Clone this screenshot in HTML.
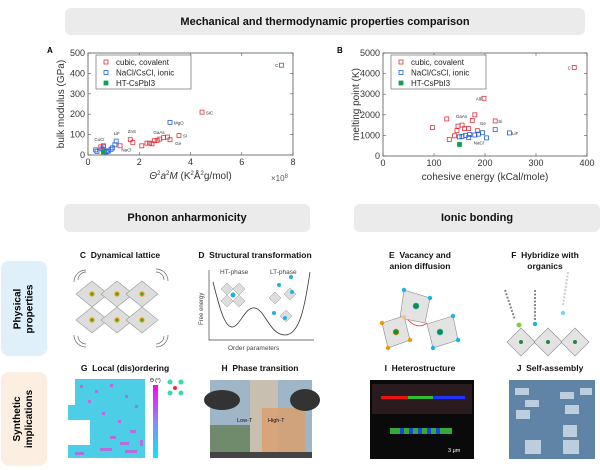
<!DOCTYPE html>
<html><head><meta charset="utf-8">
<style>
body{margin:0;background:#fff;font-family:"Liberation Sans",sans-serif;}
#root{position:relative;width:600px;height:470px;overflow:hidden;}
.banner{position:absolute;background:#ebebeb;border-radius:6px;font-weight:bold;font-size:11px;display:flex;align-items:center;justify-content:center;color:#111;}
.side{position:absolute;border-radius:8px;font-weight:bold;font-size:10px;display:flex;align-items:center;justify-content:center;text-align:center;}
.side span{transform:rotate(-90deg);white-space:nowrap;line-height:12px;}
.pt{position:absolute;font-weight:bold;font-size:8.5px;text-align:center;line-height:11px;color:#111;}
svg text{font-family:"Liberation Sans",sans-serif;}
</style></head>
<body><div id="root">
<div class="banner" style="left:65px;top:8px;width:520px;height:27px;">Mechanical and thermodynamic properties comparison</div>
<svg id="charts" width="600" height="200" style="position:absolute;left:0;top:0"></svg>

<div class="banner" style="left:64px;top:204px;width:246px;height:28px;">Phonon anharmonicity</div>
<div class="banner" style="left:354px;top:204px;width:246px;height:28px;">Ionic bonding</div>
<div class="side" style="left:1px;top:261px;width:46px;height:95px;background:#dff0fa;"><span>Physical<br>properties</span></div>
<div class="side" style="left:1px;top:372px;width:46px;height:94px;background:#fcefe1;"><span>Synthetic<br>implications</span></div>

<div class="pt" style="left:70px;top:250px;width:100px;">C&nbsp; Dynamical lattice</div>
<div class="pt" style="left:190px;top:250px;width:130px;">D&nbsp; Structural transformation</div>
<div class="pt" style="left:370px;top:250px;width:100px;">E&nbsp; Vacancy and<br>anion diffusion</div>
<div class="pt" style="left:495px;top:250px;width:100px;">F&nbsp; Hybridize with<br>organics</div>
<div class="pt" style="left:70px;top:363px;width:110px;">G&nbsp; Local (dis)ordering</div>
<div class="pt" style="left:210px;top:363px;width:100px;">H&nbsp; Phase transition</div>
<div class="pt" style="left:370px;top:363px;width:100px;">I&nbsp; Heterostructure</div>
<div class="pt" style="left:505px;top:363px;width:90px;">J&nbsp; Self-assembly</div>

<svg width="600" height="470" style="position:absolute;left:0;top:0">
 <g fill="#ddd" stroke="#999" stroke-width="0.6">
  <polygon points="92,281 108,294 92,307 76,294"/><polygon points="117,281 133,294 117,307 101,294"/><polygon points="142,281 158,294 142,307 126,294"/>
  <polygon points="92,307 108,320 92,333 76,320"/><polygon points="117,307 133,320 117,333 101,320"/><polygon points="142,307 158,320 142,333 126,320"/>
  <g fill="#3a3" stroke="#e90" stroke-width="1.2"><circle cx="92" cy="294" r="2"/><circle cx="117" cy="294" r="2"/><circle cx="142" cy="294" r="2"/><circle cx="92" cy="320" r="2"/><circle cx="117" cy="320" r="2"/><circle cx="142" cy="320" r="2"/></g>
  <g fill="none" stroke="#666" stroke-width="0.7"><path d="M78,280 a8,8 0 0 1 8,-8"/><path d="M74,282 a12,12 0 0 1 12,-12"/><path d="M156,272 a8,8 0 0 1 8,8"/><path d="M156,269 a12,12 0 0 1 12,12"/><path d="M78,336 a8,8 0 0 0 8,8"/><path d="M74,335 a12,12 0 0 0 12,12"/><path d="M164,336 a8,8 0 0 1 -8,8"/><path d="M168,335 a12,12 0 0 1 -12,12"/></g>
 </g>
 <g>
  <path d="M209,270 L209,340 L314,340" fill="none" stroke="#444" stroke-width="0.7"/>
  <path d="M213,282 C220,310 225,327 232,327 C240,327 245,306 255,308 C265,310 270,335 285,335 C300,335 305,305 310,272" fill="none" stroke="#333" stroke-width="0.8"/>
  <text x="220" y="274" font-size="6.5" fill="#444">HT-phase</text><text x="270" y="274" font-size="6.5" fill="#444">LT-phase</text>
  <text x="228" y="350" font-size="6.5" fill="#444">Order parameters</text>
  <text x="203" y="325" font-size="6" fill="#444" transform="rotate(-90 203 325)">Free energy</text>
  <g fill="#ddd" stroke="#999" stroke-width="0.5"><polygon points="227,283 233,289 227,295 221,289"/><polygon points="239,283 245,289 239,295 233,289"/><polygon points="227,295 233,301 227,307 221,301"/><polygon points="239,295 245,301 239,307 233,301"/><polygon points="275,292 281,298 275,304 269,298"/><polygon points="290,288 296,294 290,300 284,294"/><polygon points="286,310 292,316 286,322 280,316"/></g>
  <circle cx="233" cy="295" r="2.5" fill="#1ab3e6"/><circle cx="279" cy="285" r="2" fill="#1ab3e6"/><circle cx="292" cy="292" r="2" fill="#1ab3e6"/><circle cx="285" cy="318" r="2" fill="#1ab3e6"/><circle cx="274" cy="313" r="2" fill="#1ab3e6"/><circle cx="291" cy="277" r="2" fill="#1ab3e6"/>
 </g>
 <g fill="#e3e3e3" stroke="#888" stroke-width="0.6">
  <polygon points="404,290 430,298 425,323 400,318"/><polygon points="382,323 404,316 410,340 388,348"/><polygon points="427,324 453,316 458,340 433,348"/>
  <circle cx="416" cy="306" r="3" fill="#1b8a3a" stroke="#1ab3e6"/><circle cx="396" cy="332" r="3" fill="#1b8a3a" stroke="#e90"/><circle cx="440" cy="332" r="3" fill="#1b8a3a" stroke="#1ab3e6"/>
  <g stroke="none"><circle cx="382" cy="323" r="2.2" fill="#e90"/><circle cx="388" cy="348" r="2.2" fill="#e90"/><circle cx="410" cy="340" r="2.2" fill="#e90"/><circle cx="404" cy="290" r="2.2" fill="#1ab3e6"/><circle cx="430" cy="298" r="2.2" fill="#1ab3e6"/><circle cx="453" cy="316" r="2.2" fill="#1ab3e6"/><circle cx="458" cy="340" r="2.2" fill="#1ab3e6"/><circle cx="433" cy="348" r="2.2" fill="#1ab3e6"/><circle cx="404" cy="317" r="2" fill="#f5c28a"/></g>
  <path d="M408,320 Q418,330 427,323" fill="none" stroke="#e33" stroke-width="0.8"/>
 </g>
 <g fill="#e3e3e3" stroke="#888" stroke-width="0.6">
  <polygon points="521,328 535,342 521,356 507,342"/><polygon points="548,328 562,342 548,356 534,342"/><polygon points="575,328 589,342 575,356 561,342"/>
  <g stroke="none"><circle cx="521" cy="342" r="2" fill="#1b8a3a"/><circle cx="548" cy="342" r="2" fill="#1b8a3a"/><circle cx="575" cy="342" r="2" fill="#1b8a3a"/><circle cx="519" cy="325" r="2.5" fill="#8c4"/><circle cx="535" cy="324" r="2.2" fill="#1ab3e6"/><circle cx="563" cy="313" r="2.2" fill="#7ad4f5"/></g>
  <path d="M505,290 L510,305 L515,320" stroke="#888" stroke-width="2" fill="none" stroke-dasharray="2 1.5"/>
  <path d="M535,290 L535,320" stroke="#888" stroke-width="2" fill="none" stroke-dasharray="2 1.5"/>
  <path d="M568,272 L563,305" stroke="#ccc" stroke-width="2" fill="none" stroke-dasharray="2 1.5"/>
 </g>
 <g>
  <path d="M75,379 L145,379 L145,458 L68,458 L68,445 L90,445 L90,420 L68,420 L68,405 L75,405 Z" fill="#4ccfe6"/>
  <g fill="#d94fd9" opacity="0.75">
   <rect x="80" y="385" width="3" height="3"/><rect x="95" y="390" width="3" height="3"/><rect x="110" y="384" width="3" height="3"/><rect x="125" y="395" width="3" height="3"/><rect x="88" y="400" width="3" height="3"/><rect x="135" y="405" width="3" height="3"/><rect x="102" y="412" width="3" height="3"/><rect x="118" y="420" width="3" height="3"/><rect x="130" y="430" width="6" height="3"/><rect x="110" y="436" width="6" height="3"/><rect x="120" y="442" width="9" height="3"/><rect x="100" y="448" width="12" height="3"/><rect x="125" y="450" width="12" height="3"/><rect x="140" y="440" width="3" height="6"/><rect x="75" y="452" width="9" height="3"/>
  </g>
  <defs><linearGradient id="cb" x1="0" y1="0" x2="0" y2="1"><stop offset="0" stop-color="#f0f"/><stop offset="0.5" stop-color="#88f"/><stop offset="1" stop-color="#0ef"/></linearGradient></defs>
  <rect x="153" y="385" width="5" height="73" fill="url(#cb)"/>
  <text x="150" y="382" font-size="5">Θ (°)</text>
  <circle cx="170" cy="382" r="2.5" fill="#3dd6b5"/><circle cx="181" cy="382" r="2.5" fill="#3dd6b5"/><circle cx="170" cy="393" r="2.5" fill="#3dd6b5"/><circle cx="181" cy="393" r="2.5" fill="#3dd6b5"/><circle cx="175" cy="388" r="2" fill="#e33"/>
 </g>
 <g>
  <rect x="210" y="380" width="102" height="78" fill="#9fb6c8"/>
  <rect x="250" y="380" width="28" height="78" fill="#c9bfb0"/>
  <rect x="210" y="425" width="40" height="33" fill="#6f8b6c"/>
  <rect x="262" y="408" width="43" height="50" fill="#d9a070" opacity="0.85"/>
  <ellipse cx="222" cy="400" rx="18" ry="10" fill="#333"/><ellipse cx="305" cy="400" rx="15" ry="11" fill="#333"/>
  <rect x="210" y="452" width="102" height="6" fill="#444"/>
  <text x="237" y="422" font-size="5.5" fill="#111">Low-T</text><text x="268" y="422" font-size="5.5" fill="#111">High-T</text>
 </g>
 <g>
  <rect x="370" y="380" width="104" height="79" fill="#0a0a0a"/>
  <rect x="372" y="384" width="100" height="30" fill="#2a1c1e"/>
  <rect x="381" y="396" width="27" height="3" fill="#e11"/><rect x="408" y="396" width="25" height="3" fill="#3b3"/><rect x="433" y="396" width="32" height="3" fill="#23f"/>
  <rect x="390" y="428" width="62" height="6" fill="#3a3"/>
  <g fill="#24d"><rect x="400" y="428" width="4" height="6"/><rect x="409" y="428" width="4" height="6"/><rect x="418" y="428" width="4" height="6"/><rect x="427" y="428" width="4" height="6"/><rect x="436" y="428" width="4" height="6"/></g>
  <text x="448" y="452" font-size="5.5" fill="#fff">3 μm</text>
 </g>
 <g>
  <rect x="509" y="380" width="86" height="79" fill="#5f84a6"/>
  <g fill="#c7d7e3" opacity="0.9"><rect x="515" y="388" width="14" height="7"/><rect x="525" y="400" width="14" height="7"/><rect x="560" y="392" width="14" height="7"/><rect x="580" y="388" width="12" height="7"/><rect x="565" y="405" width="14" height="9"/><rect x="516" y="410" width="14" height="9"/><rect x="563" y="425" width="14" height="12"/><rect x="525" y="440" width="16" height="14"/><rect x="563" y="440" width="16" height="14"/></g>
 </g>
</svg>

<script>
// Chart A data
const aRedX=[7.55,4.45,3.55,3.2,3.1,2.95,2.8,2.7,2.6,2.5,2.4,2.3,2.1,1.65,1.75,1.25,0.5,0.6];
const aRedY=[440,210,95,75,88,85,78,72,70,55,58,58,45,75,62,45,40,40];
const aBlueX=[3.2,1.1,1.05,0.95,0.9,0.8,0.7,0.6,0.35,0.3,0.55,0.75];
const aBlueY=[160,68,50,35,28,20,15,45,18,25,30,18];
const aGreenX=[0.6];
const aGreenY=[15];
const aXTicks=[0,2,4,6,8];
const aYTicks=[0,100,200,300,400,500];
const aLabels=[["C",7.3,440],["SiC",4.6,208],["Si",3.7,95],["Ge",3.4,58],["GaAs",2.55,112],["MgO",3.35,160],["ZnS",1.55,118],["LiF",1.0,108],["CuCl",0.25,78],["NaCl",1.3,28]];
// Chart B data
const bRedX=[375,198,180,220,125,97,155,147,175,160,168,145,185,140,130];
const bRedY=[4300,2800,2000,1700,1800,1380,1500,1450,1730,1330,1330,1230,1230,980,800];
const bBlueX=[248,220,203,195,187,180,170,168,162,155,150];
const bBlueY=[1120,1280,880,1130,1060,1020,1040,900,1000,950,930];
const bGreenX=[150];
const bGreenY=[560];
const bXTicks=[0,100,200,300,400];
const bYTicks=[0,1000,2000,3000,4000,5000];
const bLabels=[["C",362,4300],["AlP",182,2800],["GaAs",143,1950],["Si",226,1700],["Ge",190,1600],["LiF",253,1120],["NaCl",178,650]];

const NS="http://www.w3.org/2000/svg";
const svg=document.getElementById('charts');
function mk(tag,attrs,parent){const e=document.createElementNS(NS,tag);for(const k in attrs)e.setAttribute(k,attrs[k]);(parent||svg).appendChild(e);return e;}
function chart(o){
  const g=mk('g',{});
  
  
  const sx=v=>o.L+(v-o.xmin)/(o.xmax-o.xmin)*(o.R-o.L);
  const sy=v=>o.B-(v-o.ymin)/(o.ymax-o.ymin)*(o.B-o.T);
  const fr=mk('rect',{x:o.L,y:o.T,width:o.R-o.L,height:o.B-o.T,fill:'none',stroke:'#555','stroke-width':0.8},g);
  
  
  o.xt.forEach(v=>{const x=sx(v);mk('line',{x1:x,x2:x,y1:o.B,y2:o.B-3,stroke:'#555','stroke-width':0.6},g);mk('line',{x1:x,x2:x,y1:o.T,y2:o.T+3,stroke:'#555','stroke-width':0.6},g);
    const t=mk('text',{x:x,y:o.B+10,'font-size':9,'text-anchor':'middle',fill:'#333'},g);t.textContent=v;
    
    });
  o.yt.forEach(v=>{const y=sy(v);mk('line',{x1:o.L,x2:o.L+3,y1:y,y2:y,stroke:'#555','stroke-width':0.6},g);mk('line',{x1:o.R,x2:o.R-3,y1:y,y2:y,stroke:'#555','stroke-width':0.6},g);
    const t=mk('text',{x:o.L-3,y:y+3,'font-size':9,'text-anchor':'end',fill:'#333'},g);t.textContent=v;
    
    });
  const pts=(xs,ys,col,fill,nm)=>xs.forEach((v,i)=>{const r=mk('rect',{x:sx(v)-2,y:sy(ys[i])-2,width:4,height:4,fill:fill,stroke:col,'stroke-width':0.8},g);
    
    });
  pts(o.rx,o.ry,'#e0303c','none','point-cubic-covalent');
  pts(o.bx,o.by,'#2060e0','none','point-ionic');
  pts(o.gx,o.gy,'#10a050','#10a050','point-ht-cspbi3');
  o.labels.forEach(l=>{const t=mk('text',{x:sx(l[1]),y:sy(l[2])+2,'font-size':4.5,fill:'#333'},g);t.textContent=l[0];
    
    });
  const lg=mk('g',{},g);
  
  
  mk('rect',{x:o.L+8,y:o.T+2,width:95,height:34,fill:'#fff',stroke:'#555','stroke-width':0.6},lg);
  [['cubic, covalent','#e0303c','none'],['NaCl/CsCl, ionic','#2060e0','none'],['HT-CsPbI3','#10a050','#10a050']].forEach((e,i)=>{
    const y=o.T+9+i*10.5;
    mk('rect',{x:o.L+16,y:y-2,width:4,height:4,fill:e[2],stroke:e[1],'stroke-width':0.8},lg);
    const t=mk('text',{x:o.L+28,y:y+3,'font-size':8,fill:'#222'},lg);t.textContent=e[0];
    
    });
  const xl=mk('text',{x:(o.L+o.R)/2,y:o.B+24,'font-size':10,'text-anchor':'middle',fill:'#333'},g);xl.innerHTML=o.xlab;
  
  
  const yl=mk('text',{x:0,y:0,'font-size':10,'text-anchor':'middle',fill:'#333',transform:`translate(${o.L-24},${(o.T+o.B)/2}) rotate(-90)`},g);yl.textContent=o.ylab;
  
  
  const pl=mk('text',{x:o.L-o.lo,y:o.T,'font-size':8,'font-weight':'bold'},g);pl.textContent=o.letter;
  
  
}
chart({name:'chart-a',lo:41,L:88,R:293,T:53,B:155,xmin:0,xmax:8,ymin:0,ymax:500,xt:aXTicks,yt:aYTicks,rx:aRedX,ry:aRedY,bx:aBlueX,by:aBlueY,gx:aGreenX,gy:aGreenY,labels:aLabels,
  xlab:'<tspan font-style="italic">Θ</tspan><tspan font-size="6" dy="-4">2</tspan><tspan dy="4" font-style="italic">a</tspan><tspan font-size="6" dy="-4">2</tspan><tspan dy="4" font-style="italic">M</tspan> (K<tspan font-size="6" dy="-4">2</tspan><tspan dy="4">Å</tspan><tspan font-size="6" dy="-4">2</tspan><tspan dy="4">g/mol)</tspan>',ylab:'bulk modulus (GPa)',letter:'A'});
chart({name:'chart-b',lo:46,L:383,R:587,T:53,B:156,xmin:0,xmax:400,ymin:0,ymax:5000,xt:bXTicks,yt:bYTicks,rx:bRedX,ry:bRedY,bx:bBlueX,by:bBlueY,gx:bGreenX,gy:bGreenY,labels:bLabels,
  xlab:'cohesive energy (kCal/mole)',ylab:'melting point (K)',letter:'B'});
const ex=mk('text',{x:271,y:181,'font-size':8,fill:'#555'});ex.innerHTML='×10<tspan font-size="6" dy="-3">8</tspan>';


</script>
</div></body></html>
